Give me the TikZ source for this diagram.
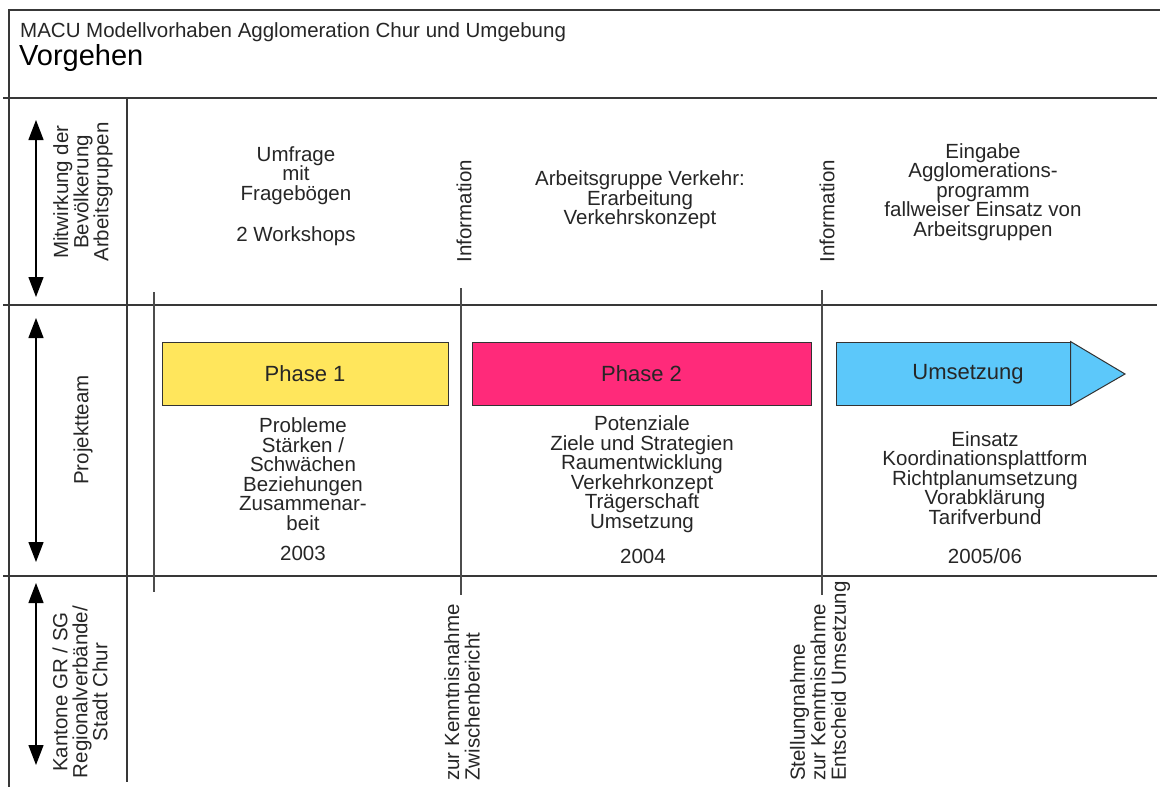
\documentclass[tikz,border=0pt]{standalone}
\usepackage{fontspec}
\setmainfont{Liberation Sans}
\usetikzlibrary{arrows.meta,positioning}
\definecolor{phaseyellow}{RGB}{255,230,92}
\definecolor{phasepink}{RGB}{255,42,122}
\definecolor{umsblue}{RGB}{92,200,250}
\definecolor{inkgray}{RGB}{38,38,38}
\tikzset{
  >={Triangle[length=20pt,width=15pt]},
  x=1pt,y=-1pt,
  rule/.style={line width=1.3pt,black!78},
  mstone/.style={line width=1.3pt,black!70},
  lane/.style={<->,line width=1.3pt,black},
  lanelbl/.style={rotate=90,align=center,inner sep=0pt,text=inkgray,
    font=\fontsize{20.5}{18}\selectfont},
  mslbl/.style={rotate=90,align=left,anchor=west,inner sep=0pt,text=inkgray,
    font=\fontsize{20.5}{20.5}\selectfont},
  txt/.style={align=center,inner sep=0pt,text=inkgray,
    font=\fontsize{20.5}{19.5}\selectfont},
  phasebox/.style={draw=black!80,line width=1pt,minimum height=63pt,
    inner sep=0pt,font=\fontsize{22}{22}\selectfont,text=inkgray},
}

\begin{document}
\begin{tikzpicture}
  \useasboundingbox (0,0) rectangle (1160,787);
  % frame and lanes
  \draw[rule] (9,787) -- (9,10) -- (1160,10);
  \draw[rule] (3,98) -- (1157,98);
  \draw[rule] (3,305) -- (1157,305);
  \draw[rule] (3,576) -- (1157,576);
  \draw[rule] (127,98) -- (127,782);
  \draw[mstone] (154,292) -- (154,592);
  \draw[mstone] (461,288) -- (461,595);
  \draw[mstone] (822,290) -- (822,595);

  \node[anchor=base west,inner sep=0pt,text=inkgray,font=\fontsize{20.5}{20.5}\selectfont]
    (kopf) at (20,37) {MACU Modellvorhaben Agglomeration Chur und Umgebung};
  \node[anchor=base west,inner sep=0pt,text=black,font=\fontsize{29}{29}\selectfont]
    (titel) at (19,65) {Vorgehen};

  % left column
  \coordinate (a1) at (36,120); \coordinate (b1) at (36,297);
  \coordinate (a2) at (36,318); \coordinate (b2) at (36,562);
  \coordinate (a3) at (36,583); \coordinate (b3) at (36,765);
  \draw[lane] (a1) -- (b1);
  \draw[lane] (a2) -- (b2);
  \draw[lane] (a3) -- (b3);
  \node[lanelbl] (bev) at (83,192) {Mitwirkung der\\Bevölkerung\\Arbeitsgruppen};
  \node[lanelbl] (team) at (83,430) {Projektteam};
  \node[lanelbl,font=\fontsize{20.5}{20}\selectfont] (kant) at (80,692)
    {Kantone GR / SG\\Regionalverbände/\\Stadt Chur};

  % top lane
  \node[txt] (umfrage) at (296,196) {Umfrage\\mit\\Fragebögen\\[22pt]2 Workshops};
  \node[txt] (agv) at (640,200) {Arbeitsgruppe Verkehr:\\Erarbeitung\\Verkehrskonzept};
  \node[txt] (eingabe) at (983,192) {Eingabe\\Agglomerations-\\programm\\fallweiser Einsatz von\\Arbeitsgruppen};
  \node[lanelbl] (info1) at (464,211) {Information};
  \node[lanelbl] (info2) at (827,211) {Information};

  % phases
  \node[phasebox,fill=phaseyellow,minimum width=286pt] (ph1) at (305,373.5) {Phase 1};
  \node[phasebox,fill=phasepink,minimum width=339pt] (ph2) at (641.5,373.5) {Phase 2};
  \node[phasebox,fill=umsblue,minimum width=234pt] (ums) at (953,373.5) {};
  \coordinate (umstip) at (1125,374);
  \draw[line width=1pt,black!80,fill=umsblue] (ums.north east) -- (umstip) -- (ums.south east) -- cycle;
  \node[inner sep=0pt,text=inkgray,font=\fontsize{22}{22}\selectfont] (umslbl) at (968,374) {Umsetzung};

  \node[txt] (inh1) at (303,474) {Probleme\\Stärken /\\Schwächen\\Beziehungen\\Zusammenar-\\beit};
  \node[txt] (inh2) at (642,474) {Potenziale\\Ziele und Strategien\\Raumentwicklung\\Verkehrkonzept\\Trägerschaft\\Umsetzung};
  \node[txt] (inh3) at (985,478) {Einsatz\\Koordinationsplattform\\Richtplanumsetzung\\Vorabklärung\\Tarifverbund};
  \node[txt] (jahr1) at (303,553) {2003};
  \node[txt] (jahr2) at (643,556) {2004};
  \node[txt] (jahr3) at (985,556) {2005/06};

  % bottom lane
  \node[mslbl] (zwb) at (462,781) {zur Kenntnisnahme\\Zwischenbericht};
  \node[mslbl] (stn) at (820,781) {Stellungnahme\\zur Kenntnisnahme\\Entscheid Umsetzung};
\end{tikzpicture}
\end{document}
